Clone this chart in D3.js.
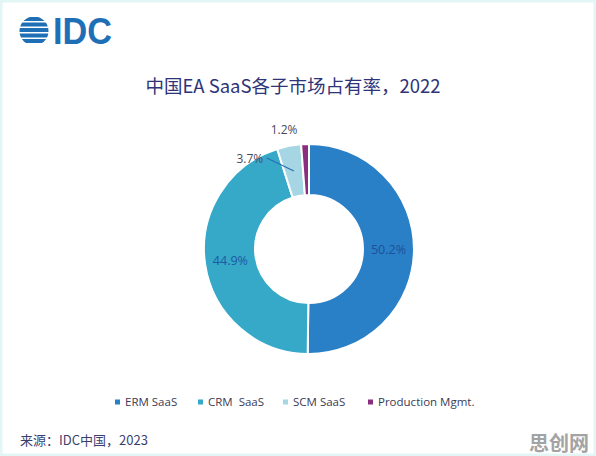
<!DOCTYPE html>
<html><head><meta charset="utf-8">
<script src="https://cdn.jsdelivr.net/npm/d3@7"></script>
<style>html,body{margin:0;padding:0;background:#fff;}svg{display:block;}</style>
</head><body>
<svg id="c" width="596" height="456"></svg>
<script>
const categories = ["ERM SaaS", "CRM  SaaS", "SCM SaaS", "Production Mgmt."];
const values = [50.2, 44.9, 3.7, 1.2];
const labels = ["50.2%", "44.9%", "3.7%", "1.2%"];
const colors = ["#2a80c6", "#36a9c9", "#a6d6e3", "#8a2f80"];
const title = "中国EA SaaS各子市场占有率，2022";
const source = "来源：IDC中国，2023";

const svg = d3.select("#c");
svg.append("rect").attr("x",1).attr("y",1).attr("width",594).attr("height",454)
  .attr("fill","#fff").attr("stroke","#e2f6f6").attr("stroke-width",3);

// IDC logo
const logo = svg.append("g");
const cl = logo.append("clipPath").attr("id","gl");
cl.append("circle").attr("cx",34).attr("cy",31).attr("r",14.5);
const stripes = [17,22.5,28,33.5,39];
logo.append("g").attr("clip-path","url(#gl)").selectAll("rect").data(stripes).join("rect")
  .attr("x",18).attr("y",d=>d).attr("width",33).attr("height",4)
  .attr("fill","#1f6fb6");
logo.append("text").attr("x",53).attr("y",44).attr("font-family","Liberation Sans, Arial, sans-serif")
  .attr("font-weight","bold").attr("font-size",36).attr("fill","#1f6fb6")
  .attr("textLength",59).attr("lengthAdjust","spacingAndGlyphs").text("IDC");

svg.append("text").attr("x",293).attr("y",93).attr("text-anchor","middle")
  .attr("font-family","Noto Sans CJK SC, Open Sans, sans-serif").attr("font-size",18.5)
  .attr("fill","#2f3478").text(title);

const cx = 309, cy = 249, rO = 105, rI = 54;
const pie = d3.pie().sort(null).value(d=>d)(values);
const arc = d3.arc().innerRadius(rI).outerRadius(rO);
const g = svg.append("g").attr("transform",`translate(${cx},${cy})`);
g.selectAll("path").data(pie).join("path")
  .attr("d",arc).attr("fill",(d,i)=>colors[i]).attr("stroke","#fff").attr("stroke-width",2);

const mid = d3.arc().innerRadius((rI+rO)/2).outerRadius((rI+rO)/2);
const labelColors = ["#1d4f9c","#1d5aa2","#4a4a5e","#4a4a5e"];
// inside labels for big slices
[0,1].forEach(i=>{
  const [x,y] = mid.centroid(pie[i]);
  g.append("text").attr("x",x).attr("y",y).attr("dy","0.35em").attr("text-anchor","middle")
    .attr("font-family","Open Sans, sans-serif").attr("font-size",12.5)
    .attr("fill",labelColors[i]).text(labels[i]);
});
// SCM leader
{
  const [x,y] = mid.centroid(pie[2]);
  g.append("line").attr("x1",x).attr("y1",y).attr("x2",x-27).attr("y2",y-13)
    .attr("stroke","#2a6db4").attr("stroke-width",1.2);
  g.append("text").attr("x",x-44).attr("y",y-12).attr("dy","0.35em").attr("text-anchor","middle")
    .attr("font-family","Open Sans, sans-serif").attr("font-size",12)
    .attr("fill",labelColors[2]).text(labels[2]);
}
{
  const a = (pie[3].startAngle+pie[3].endAngle)/2;
  const x = Math.sin(a)*rO, y = -Math.cos(a)*rO;
  g.append("text").attr("x",x-21).attr("y",y-14).attr("dy","0.35em").attr("text-anchor","middle")
    .attr("font-family","Open Sans, sans-serif").attr("font-size",12)
    .attr("fill",labelColors[3]).text(labels[3]);
}

// legend
const legX = [115, 198, 283, 368];
const lg = svg.append("g").selectAll("g").data(categories).join("g")
  .attr("transform",(d,i)=>`translate(${legX[i]},402)`);
lg.append("rect").attr("x",0).attr("y",-2.5).attr("width",5).attr("height",5).attr("fill",(d,i)=>colors[i]);
lg.append("text").attr("x",10).attr("y",0).attr("dy","0.35em")
  .attr("font-family","Open Sans, sans-serif").attr("font-size",11.5).attr("fill","#3a3a56")
  .style("white-space","pre").attr("xml:space","preserve").text(d=>d);

svg.append("text").attr("x",20).attr("y",445).attr("font-family","Noto Sans CJK SC, sans-serif")
  .attr("font-size",13).attr("fill","#3a3f72").text(source);
svg.append("text").attr("x",589).attr("y",451).attr("text-anchor","end")
  .attr("font-family","Noto Sans CJK SC, sans-serif").attr("font-weight","bold")
  .attr("font-size",20).attr("fill","#a3a3a3").text("思创网");
</script>
</body></html>
